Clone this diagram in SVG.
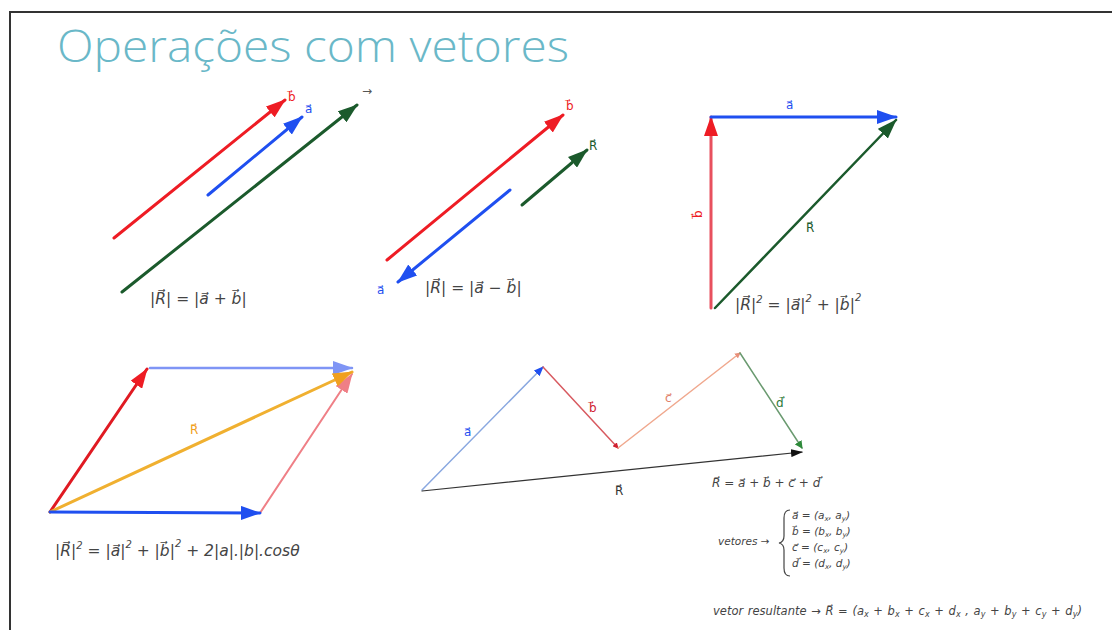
<svg xmlns="http://www.w3.org/2000/svg" width="1112" height="630" viewBox="0 0 1112 630">
<style>
.f{font-family:"DejaVu Sans","Liberation Sans",sans-serif;font-style:italic;fill:#444}
.lb{font-family:"DejaVu Sans","Liberation Sans",sans-serif;font-size:12px}
.v{fill:none;stroke-linecap:round}
</style>
<defs>
<marker id="aRed" viewBox="0 0 20 14" refX="19" refY="7" markerWidth="20" markerHeight="14" markerUnits="userSpaceOnUse" orient="auto"><path d="M0,0 L20,7 L0,14 z" fill="#ee1c24"/></marker>
<marker id="aBlue" viewBox="0 0 20 14" refX="19" refY="7" markerWidth="20" markerHeight="14" markerUnits="userSpaceOnUse" orient="auto"><path d="M0,0 L20,7 L0,14 z" fill="#1f4ff0"/></marker>
<marker id="aGreen" viewBox="0 0 20 14" refX="19" refY="7" markerWidth="20" markerHeight="14" markerUnits="userSpaceOnUse" orient="auto"><path d="M0,0 L20,7 L0,14 z" fill="#1b5a2c"/></marker>
<marker id="aOrange" viewBox="0 0 20 14" refX="19" refY="7" markerWidth="20" markerHeight="14" markerUnits="userSpaceOnUse" orient="auto"><path d="M0,0 L20,7 L0,14 z" fill="#f0a020"/></marker>
<marker id="aLBlue" viewBox="0 0 20 14" refX="19" refY="7" markerWidth="20" markerHeight="14" markerUnits="userSpaceOnUse" orient="auto"><path d="M0,0 L20,7 L0,14 z" fill="#7f95f5"/></marker>
<marker id="aPink" viewBox="0 0 20 14" refX="19" refY="7" markerWidth="20" markerHeight="14" markerUnits="userSpaceOnUse" orient="auto"><path d="M0,0 L20,7 L0,14 z" fill="#ef7f86"/></marker>
<marker id="sBlue" viewBox="0 0 10 8" refX="9" refY="4" markerWidth="10" markerHeight="8" markerUnits="userSpaceOnUse" orient="auto"><path d="M0,0 L10,4 L0,8 z" fill="#1f4ff0"/></marker>
<marker id="sBlack" viewBox="0 0 12 8" refX="11" refY="4" markerWidth="12" markerHeight="8" markerUnits="userSpaceOnUse" orient="auto"><path d="M0,0 L12,4 L0,8 z" fill="#111"/></marker>
<marker id="sRed" viewBox="0 0 6 6" refX="5" refY="3" markerWidth="6" markerHeight="6" markerUnits="userSpaceOnUse" orient="auto"><path d="M0,0 L6,3 L0,6 z" fill="#d02030"/></marker>
<marker id="sOr" viewBox="0 0 6 6" refX="5" refY="3" markerWidth="6" markerHeight="6" markerUnits="userSpaceOnUse" orient="auto"><path d="M0,0 L6,3 L0,6 z" fill="#e8907a"/></marker>
<marker id="sGreen" viewBox="0 0 8 8" refX="7" refY="4" markerWidth="8" markerHeight="8" markerUnits="userSpaceOnUse" orient="auto"><path d="M0,0 L8,4 L0,8 z" fill="#2e8a3a"/></marker>
</defs>
<rect width="1112" height="630" fill="#fff"/>
<path d="M10,630 V12 H1112" fill="none" stroke="#333" stroke-width="2"/>
<text x="57" y="62" font-family="'Open Sans','Noto Sans',sans-serif" font-weight="300" font-size="44" fill="#6ab8c8" textLength="512" lengthAdjust="spacingAndGlyphs">Operações com vetores</text>

<g id="panel-soma-paralela">
<line class="v" x1="114" y1="238" x2="285" y2="100" stroke="#ee1c24" stroke-width="3" marker-end="url(#aRed)"/>
<line class="v" x1="208" y1="195" x2="302" y2="117" stroke="#1f4ff0" stroke-width="3" marker-end="url(#aBlue)"/>
<line class="v" x1="122" y1="292" x2="357" y2="105" stroke="#1b5a2c" stroke-width="3" marker-end="url(#aGreen)"/>
<text class="lb" x="288" y="101" fill="#ee1c24">b⃗</text>
<text class="lb" x="305" y="113" fill="#1f4ff0">a⃗</text>
<text class="lb" x="362" y="95" fill="#555" font-size="9">→</text>
<text class="f" x="150" y="304" font-size="15.5">|R⃗| = |a⃗ + b⃗|</text>
</g>

<g id="panel-subtracao">
<line class="v" x1="387" y1="260" x2="563" y2="115" stroke="#ee1c24" stroke-width="3" marker-end="url(#aRed)"/>
<line class="v" x1="522" y1="205" x2="587" y2="150" stroke="#1b5a2c" stroke-width="3" marker-end="url(#aGreen)"/>
<line class="v" x1="510" y1="190" x2="398" y2="282" stroke="#1f4ff0" stroke-width="3" marker-end="url(#aBlue)"/>
<text class="lb" x="566" y="110" fill="#ee1c24">b⃗</text>
<text class="lb" x="589" y="150" fill="#1b5a2c">R⃗</text>
<text class="lb" x="377" y="294" fill="#1f4ff0">a⃗</text>
<text class="f" x="425" y="293" font-size="15.5">|R⃗| = |a⃗ − b⃗|</text>
</g>

<g id="panel-pitagoras">
<line class="v" x1="711" y1="308" x2="711" y2="117" stroke="#e8505e" stroke-width="3" marker-end="url(#aRed)"/>
<line class="v" x1="711" y1="117" x2="896" y2="117" stroke="#1f4ff0" stroke-width="3" marker-end="url(#aBlue)"/>
<line class="v" x1="715" y1="308" x2="896" y2="120" stroke="#1b5a2c" stroke-width="2.5" marker-end="url(#aGreen)"/>
<text class="lb" x="0" y="0" fill="#ee1c24" transform="translate(702,218) rotate(-90)">b⃗</text>
<text class="lb" x="786" y="109" fill="#1f4ff0">a⃗</text>
<text class="lb" x="806" y="232" fill="#1b5a2c">R⃗</text>
<text class="f" x="735" y="310" font-size="15.5">|R⃗|<tspan font-size="10" dy="-7">2</tspan><tspan dy="7"> = |a⃗|</tspan><tspan font-size="10" dy="-8">2</tspan><tspan dy="8"> + |b⃗|</tspan><tspan font-size="10" dy="-9">2</tspan></text>
</g>

<g id="panel-paralelogramo">
<line class="v" x1="50" y1="512" x2="147" y2="369" stroke="#e01a22" stroke-width="3" marker-end="url(#aRed)"/>
<line class="v" x1="150" y1="368" x2="352" y2="368" stroke="#7f95f5" stroke-width="2.5" marker-end="url(#aLBlue)"/>
<line class="v" x1="260" y1="513" x2="352" y2="374" stroke="#ef7f86" stroke-width="2" marker-end="url(#aPink)"/>
<line class="v" x1="50" y1="512" x2="352" y2="372" stroke="#f0b030" stroke-width="3" marker-end="url(#aOrange)"/>
<line class="v" x1="50" y1="512" x2="260" y2="513" stroke="#1f4ff0" stroke-width="3" marker-end="url(#aBlue)"/>
<text class="lb" x="190" y="434" fill="#f0a020">R⃗</text>
<text class="f" x="55" y="556" font-size="15.5">|R⃗|<tspan font-size="10" dy="-7">2</tspan><tspan dy="7"> = |a⃗|</tspan><tspan font-size="10" dy="-8">2</tspan><tspan dy="8"> + |b⃗|</tspan><tspan font-size="10" dy="-9">2</tspan><tspan dy="9"> + 2|a|.|b|.cosθ</tspan></text>
</g>

<g id="panel-poligono">
<line class="v" x1="422" y1="490" x2="543" y2="367" stroke="#8aa8e0" stroke-width="1.5" marker-end="url(#sBlue)"/>
<line class="v" x1="543" y1="367" x2="618" y2="448" stroke="#d85a60" stroke-width="1.5" marker-end="url(#sRed)"/>
<line class="v" x1="618" y1="448" x2="740" y2="353" stroke="#f0a88e" stroke-width="1.5" marker-end="url(#sOr)"/>
<line class="v" x1="740" y1="353" x2="802" y2="448" stroke="#6a9a70" stroke-width="1.5" marker-end="url(#sGreen)"/>
<line class="v" x1="422" y1="491" x2="802" y2="452" stroke="#333" stroke-width="1.2" marker-end="url(#sBlack)"/>
<text class="lb" x="464" y="436" fill="#1f4ff0">a⃗</text>
<text class="lb" x="589" y="412" fill="#d02030">b⃗</text>
<text class="lb" x="665" y="402" fill="#e0806a">c⃗</text>
<text class="lb" x="776" y="407" fill="#2e7a3a">d⃗</text>
<text class="lb" x="615" y="495" fill="#333">R⃗</text>
<text class="f" x="712" y="487" font-size="12">R⃗ = a⃗ + b⃗ + c⃗ + d⃗</text>
</g>

<g id="componentes" class="f" font-size="10.5">
<text x="718" y="545">vetores →</text>
<path d="M790,510 Q784,510 784,518 V536 Q784,542 779,543 Q784,544 784,550 V568 Q784,576 790,576" fill="none" stroke="#444" stroke-width="1.2"/>
<text x="792" y="519">a⃗ = (a<tspan font-size="7" dy="2">x</tspan><tspan dy="-2">, a</tspan><tspan font-size="7" dy="2">y</tspan><tspan dy="-2">)</tspan></text>
<text x="792" y="535">b⃗ = (b<tspan font-size="7" dy="2">x</tspan><tspan dy="-2">, b</tspan><tspan font-size="7" dy="2">y</tspan><tspan dy="-2">)</tspan></text>
<text x="792" y="551">c⃗ = (c<tspan font-size="7" dy="2">x</tspan><tspan dy="-2">, c</tspan><tspan font-size="7" dy="2">y</tspan><tspan dy="-2">)</tspan></text>
<text x="792" y="567">d⃗ = (d<tspan font-size="7" dy="2">x</tspan><tspan dy="-2">, d</tspan><tspan font-size="7" dy="2">y</tspan><tspan dy="-2">)</tspan></text>
<text x="713" y="615" font-size="11.5" word-spacing="1">vetor  resultante → R⃗ = (a<tspan font-size="8" dy="2">x</tspan><tspan dy="-2"> + b</tspan><tspan font-size="8" dy="2">x</tspan><tspan dy="-2"> + c</tspan><tspan font-size="8" dy="2">x</tspan><tspan dy="-2"> + d</tspan><tspan font-size="8" dy="2">x</tspan><tspan dy="-2"> ,  a</tspan><tspan font-size="8" dy="2">y</tspan><tspan dy="-2"> + b</tspan><tspan font-size="8" dy="2">y</tspan><tspan dy="-2"> + c</tspan><tspan font-size="8" dy="2">y</tspan><tspan dy="-2"> + d</tspan><tspan font-size="8" dy="2">y</tspan><tspan dy="-2">)</tspan></text>
</g>
</svg>
